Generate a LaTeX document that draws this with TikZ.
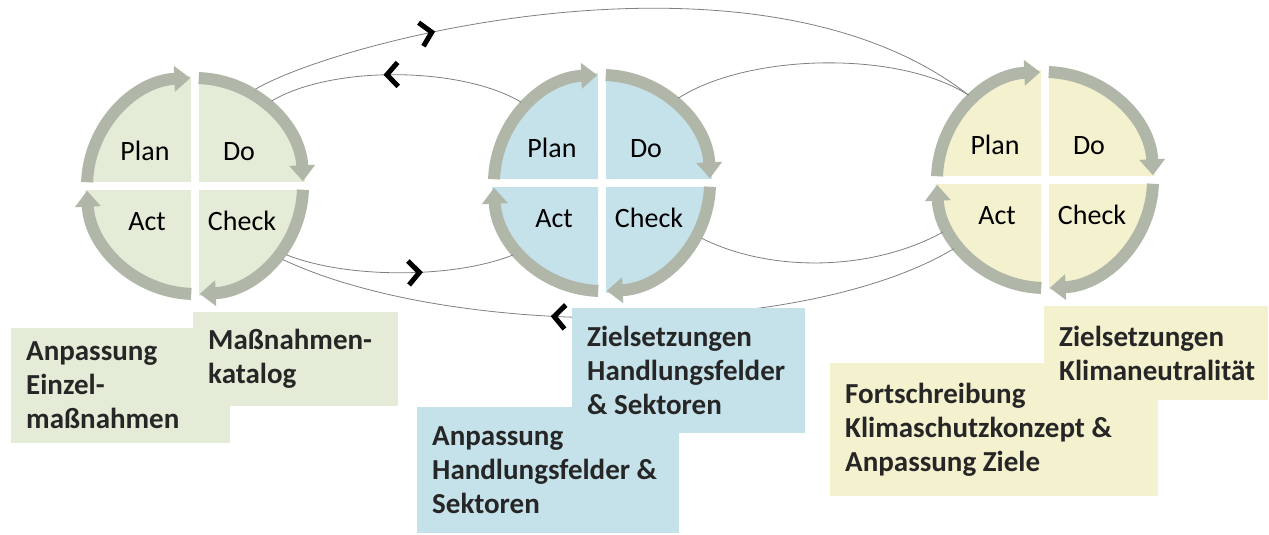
\documentclass[tikz,border=0pt]{standalone}
\usepackage{fontspec}
\setmainfont{Carlito}
\usepackage{tikz}
\usetikzlibrary{arrows.meta, decorations.markings}
\definecolor{cgruen}{HTML}{E4ECD7}
\definecolor{cblau}{HTML}{C5E2EB}
\definecolor{cgelb}{HTML}{F4F1CF}
\definecolor{cring}{HTML}{B0B7A9}
\definecolor{cband}{gray}{0.5}
\definecolor{ctext}{gray}{0.15}
\hyphenpenalty=10000

\begin{document}
\begin{tikzpicture}[x=1pt, y=1pt,
    ring/.style={draw=cring, line width=12pt, -{Triangle[length=16pt, width=25pt]}},
    lbl/.style={anchor=base, font=\fontsize{28}{34}\selectfont},
    kasten/.style={anchor=north west, align=flush left, inner xsep=15pt, inner ysep=0pt,
                   text=ctext, font=\bfseries\fontsize{29}{34}\selectfont},
    band/.style={draw=cband, line width=0.8pt},
    pfeil/.style={postaction={decorate}, decoration={markings,
                  mark=at position #1 with {\arrow[black]{Straight Barb[length=11pt, width=24pt, line width=5pt]}}}}]

  \path[use as bounding box, fill=white] (0,0) rectangle (1269,-535);

  \foreach \n/\cx/\cy/\farbe in {c1/195/-186/cgruen, c2/602/-183/cblau, c3/1045/-180/cgelb} {
    \node[circle, minimum size=228pt, inner sep=0pt] (\n) at (\cx,\cy) {};
    \begin{scope}[shift={(\cx,\cy)}]
      \fill[\farbe] (-4,4) -- (177.9:110) arc[start angle=177.9, end angle=92.1, radius=110] -- cycle;
      \fill[\farbe] (4,4) -- (87.9:110) arc[start angle=87.9, end angle=2.1, radius=110] -- cycle;
      \fill[\farbe] (4,-4) -- (-2.1:110) arc[start angle=-2.1, end angle=-87.9, radius=110] -- cycle;
      \fill[\farbe] (-4,-4) -- (-92.1:110) arc[start angle=-92.1, end angle=-177.9, radius=110] -- cycle;
      \draw[ring] (178:108) arc[start angle=178, end angle=92.5, radius=108];
      \draw[ring] (88:108) arc[start angle=88, end angle=2.5, radius=108];
      \draw[ring] (-2:108) arc[start angle=-2, end angle=-87.5, radius=108];
      \draw[ring] (-92:108) arc[start angle=-92, end angle=-177.5, radius=108];
      \node[lbl] (\n-plan) at (-50,26) {Plan};
      \node[lbl] (\n-do) at (44,26) {Do};
      \node[lbl] (\n-act) at (-48,-44) {Act};
      \node[lbl] (\n-check) at (47,-44) {Check};
    \end{scope}
  }

  \draw[band, pfeil=0.255] (c1.58) .. controls +(85,50) and +(-209,163) .. (c3.132);
  \draw[band] (c2.48) .. controls +(70,45) and +(-70,45) .. (c3.132);
  \draw[band, pfeil=0.55] (c2.135) .. controls +(-60,36) and +(60,36) .. (c1.48);
  \draw[band, pfeil=0.6] (c1.323) .. controls +(60,-24) and +(-60,-24) .. (c2.219);
  \draw[band] (c2.331) .. controls +(70,-35) and +(-70,-39) .. (c3.207);
  \draw[band, pfeil=0.6] (c3.217) .. controls +(-150,-90) and +(170,-80) .. (c1.320);

  \node[kasten, fill=cgruen, text width=189pt, minimum height=115pt] (einzel) at (11,-328)
    {Anpassung\\Einzel-\\maßnahmen};
  \node[kasten, fill=cgruen, text width=175pt, minimum height=94pt] (katalog) at (193,-312)
    {Maßnahmen-\\katalog};
  \node[kasten, fill=cblau, text width=232pt, minimum height=126pt] (anpfelder) at (417,-407)
    {Anpassung\\Handlungsfelder \&\\Sektoren};
  \node[kasten, fill=cblau, text width=203pt, minimum height=125pt] (zielfelder) at (572,-308)
    {Zielsetzungen\\Handlungsfelder\\\& Sektoren};
  \node[kasten, fill=cgelb, text width=298pt, minimum height=133pt] (fortschr) at (830,-363)
    {Fortschreibung\\Klimaschutzkonzept \&\\Anpassung Ziele};
  \node[kasten, fill=cgelb, text width=194pt, minimum height=94pt] (zielklima) at (1044,-306)
    {Zielsetzungen\\Klimaneutralität};
\end{tikzpicture}
\end{document}
